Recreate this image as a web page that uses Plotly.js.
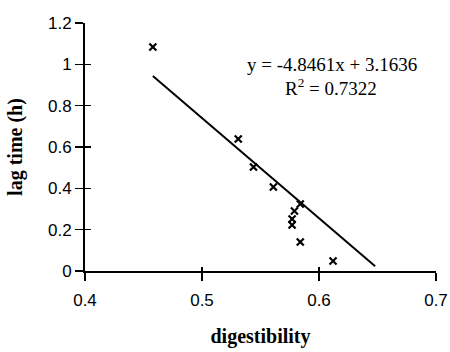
<!DOCTYPE html>
<html>
<head>
<meta charset="utf-8">
<script src="https://cdn.plot.ly/plotly-3.0.1.min.js"></script>
<style>html,body{margin:0;padding:0;background:#fff;}#chart{width:450px;height:352px;}</style>
</head>
<body>
<div id="chart"></div>
<script>
var digestibility = [0.458, 0.531, 0.544, 0.561, 0.584, 0.579, 0.577, 0.577, 0.584, 0.612];
var lagTime       = [1.084, 0.639, 0.503, 0.406, 0.324, 0.290, 0.252, 0.223, 0.140, 0.048];
var slope = -4.8461;
var intercept = 3.1636;
var trendX = [0.458, 0.648];
var trendY = trendX.map(function(x){ return slope * x + intercept; });
var xTicks = [0.4, 0.5, 0.6, 0.7];
var xTickText = ['0.4', '0.5', '0.6', '0.7'];
var yTicks = [0, 0.2, 0.4, 0.6, 0.8, 1, 1.2];
var yTickText = ['0', '0.2', '0.4', '0.6', '0.8', '1', '1.2'];

var tickFont = {family: 'Liberation Sans, Arial, sans-serif', size: 17, color: '#000'};
var titleFont = {family: 'Liberation Serif, Times New Roman, serif', size: 20, color: '#000'};
var eqFont = {family: 'Liberation Serif, Times New Roman, serif', size: 19, color: '#000'};

var data = [
  {x: trendX, y: trendY, mode: 'lines', line: {color: '#000', width: 2}, hoverinfo: 'skip', showlegend: false},
  {x: digestibility, y: lagTime, mode: 'markers', marker: {symbol: 'x-thin', size: 7, line: {color: '#000', width: 2.2}, color: '#000'}, showlegend: false},
  {x: [0.4], y: [0], xaxis: 'x2', yaxis: 'y2', mode: 'markers', marker: {opacity: 0}, hoverinfo: 'skip', showlegend: false}
];

var axisCommon = {showgrid: false, zeroline: false, showline: true, linecolor: '#000', linewidth: 2, ticks: 'outside', tickwidth: 1.5, tickcolor: '#000', tickfont: tickFont};

var layout = {
  width: 450, height: 352,
  margin: {l: 85, r: 14, t: 23, b: 81},
  paper_bgcolor: '#fff', plot_bgcolor: '#fff',
  xaxis: Object.assign({}, axisCommon, {range: [0.4, 0.7], tickvals: xTicks, ticktext: xTickText, ticklen: 8, ticklabelstandoff: 5,
    title: {text: '<b>digestibility</b>', font: titleFont, standoff: 20}}),
  yaxis: Object.assign({}, axisCommon, {range: [0, 1.2], tickvals: yTicks, ticktext: yTickText, ticklen: 8,
    title: {text: '<b>lag time (h)</b>', font: titleFont, standoff: 20}}),
  xaxis2: {overlaying: 'x', range: [0.4, 0.7], tickvals: xTicks, showticklabels: false, ticks: 'inside', ticklen: 4, tickwidth: 1.5, tickcolor: '#000', showgrid: false, zeroline: false, showline: false},
  yaxis2: {overlaying: 'y', range: [0, 1.2], tickvals: yTicks, showticklabels: false, ticks: 'inside', ticklen: 6, tickwidth: 1.5, tickcolor: '#000', showgrid: false, zeroline: false, showline: false},
  annotations: [
    {xref: 'paper', yref: 'paper', x: 0.705, y: 0.831, xanchor: 'center', yanchor: 'middle', text: 'y = -4.8461x + 3.1636', showarrow: false, font: eqFont},
    {xref: 'paper', yref: 'paper', x: 0.70, y: 0.742, xanchor: 'center', yanchor: 'middle', text: 'R<sup>2</sup> = 0.7322', showarrow: false, font: eqFont}
  ]
};

Plotly.newPlot('chart', data, layout, {staticPlot: true});
</script>
</body>
</html>
